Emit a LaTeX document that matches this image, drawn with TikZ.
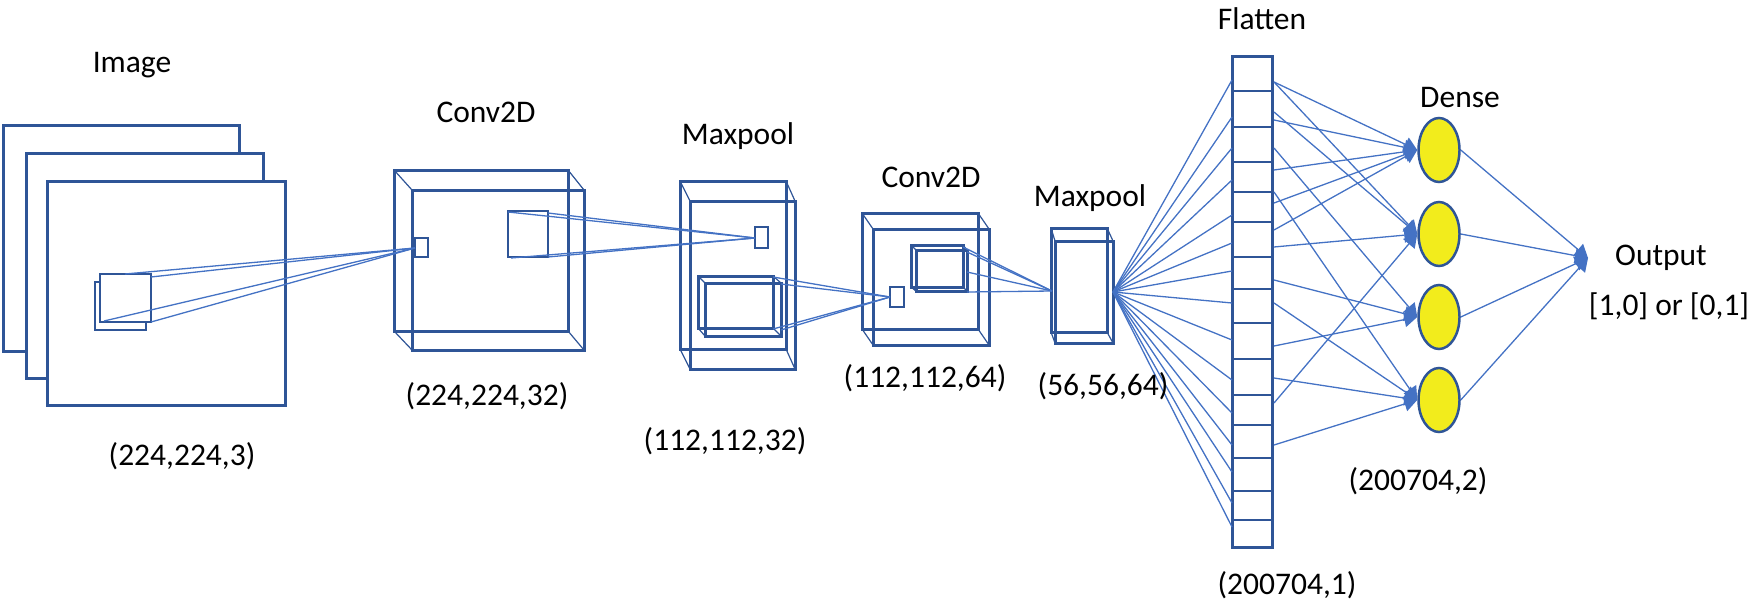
\documentclass[tikz,border=0pt]{standalone}
\usepackage{fontspec}
\setmainfont{Carlito}
\usetikzlibrary{arrows.meta,shapes.geometric}
\definecolor{boxblue}{HTML}{2F5597}
\definecolor{lineblue}{HTML}{4472C4}
\definecolor{neuron}{HTML}{F2EC1C}
\newcommand{\mycuboid}[8]{%
  \draw[box] (#1,#2) rectangle (#3,#4);
  \draw[box] (#5,#6) rectangle (#7,#8);
  \draw[edge] (#1,#2) -- (#5,#6) (#3,#2) -- (#7,#6) (#1,#4) -- (#5,#8) (#3,#4) -- (#7,#8);}
\begin{document}
\begin{tikzpicture}[x=1pt,y=-1pt,
  box/.style={draw=boxblue,line width=3pt},
  thinbox/.style={draw=boxblue,line width=2.5pt},
  edge/.style={draw=boxblue,line width=1.2pt},
  conn/.style={draw=lineblue,line width=1.3pt},
  arr/.style={conn,-{Triangle[length=13pt,width=15pt]}},
  lbl/.style={font=\fontsize{31.5}{36}\selectfont,anchor=base,inner sep=0pt,text=black},
  neuronstyle/.style={ellipse,draw=boxblue,line width=2.5pt,fill=neuron,minimum width=41pt,minimum height=64pt,inner sep=0pt}]
\useasboundingbox (0,0) rectangle (1755,607);

% ---- Image stack
\draw[box,fill=white] (3,126) rectangle (239,351);
\draw[box,fill=white] (26,153) rectangle (263,378);
\draw[box,fill=white] (47,181) rectangle (285,405);
\draw[thinbox,fill=white] (95,282) rectangle (146,330);
\draw[thinbox,fill=white] (100,274) rectangle (151,322);
\coordinate (sqA) at (125,274);
\coordinate (sqB) at (151,277);
\coordinate (sqC) at (104,321);
\coordinate (sqD) at (151,322);

% ---- Conv2D 1
\mycuboid{394}{170}{568}{331}{412}{190}{584}{350}
\draw[thinbox] (415,238) rectangle (428,257);
\coordinate (c1s) at (415,248);
\draw[thinbox] (508,211) rectangle (548,257);
\coordinate (q1) at (508,212);
\coordinate (q2) at (548,213);
\coordinate (q3) at (548,257);
\coordinate (q4) at (511,258);
\foreach \p in {sqA,sqB,sqC,sqD} \draw[conn] (\p) -- (c1s);

% ---- Maxpool 1
\mycuboid{680}{181}{786}{349}{690}{201}{795}{369}
\draw[thinbox] (755,227) rectangle (768,248);
\coordinate (m1s) at (755,238);
\mycuboid{698}{276}{773}{328}{705}{283}{781}{336}
\foreach \p in {q1,q2,q3,q4} \draw[conn] (\p) -- (m1s);
\coordinate (i1) at (773,277);
\coordinate (i2) at (781,284);
\coordinate (i3) at (781,330);
\coordinate (i4) at (773,329);

% ---- Conv2D 2
\mycuboid{862}{213}{978}{329}{873}{229}{989}{345}
\draw[thinbox] (890,287) rectangle (904,307);
\coordinate (c2s) at (890,297);
\foreach \p in {i1,i2,i3,i4} \draw[conn] (\p) -- (c2s);
\mycuboid{911}{245}{963}{287}{916}{250}{967}{291}
\coordinate (j1) at (963,247);
\coordinate (j2) at (967,252);
\coordinate (j3) at (967,272);
\coordinate (j4) at (967,292);

% ---- Maxpool 2
\mycuboid{1051}{228}{1107}{332}{1055}{241}{1113}{343}
\coordinate (m2w) at (1052,291);
\coordinate (m2e) at (1113,292);
\foreach \p in {j1,j2,j3,j4} \draw[conn] (\p) -- (m2w);

% ---- Flatten
\node[box,rectangle,minimum width=40pt,minimum height=490pt,inner sep=0pt] (fl) at (1252,302) {};
\foreach \y in {91,127,162,192,222,257,289,323,359,395,425,458,491,520}
  \draw[boxblue,line width=2pt] (1233,\y) -- (1271,\y);
\foreach \y in {80,117,148,180,215,243,271,303,340,380,413,445,472,503,527}
  \draw[conn] (m2e) -- (1232,\y);

% ---- Dense
\node[neuronstyle] (d1) at (1439,150) {};
\node[neuronstyle] (d2) at (1439,234) {};
\node[neuronstyle] (d3) at (1439,317) {};
\node[neuronstyle] (d4) at (1439,400) {};
\foreach \y in {82,120,170,203,230} \draw[arr] (1274,\y) -- (d1.west);
\foreach \y in {82,112,247,403} \draw[arr] (1274,\y) -- (d2.west);
\foreach \y in {148,280,346} \draw[arr] (1274,\y) -- (d3.west);
\foreach \y in {192,303,378,445} \draw[arr] (1274,\y) -- (d4.west);

% ---- Output
\coordinate (out) at (1588,258);
\foreach \d in {d1,d2,d3,d4} \draw[arr] (\d.east) -- (out);

% ---- Labels
\node[lbl] (tImage) at (132,73) {Image};
\node[lbl] (tConvA) at (486,122) {Conv2D};
\node[lbl] (tPoolA) at (738,144) {Maxpool};
\node[lbl] (tConvB) at (931,187) {Conv2D};
\node[lbl] (tPoolB) at (1090,206) {Maxpool};
\node[lbl] (tFlat) at (1262,30) {Flatten};
\node[lbl] (tDense) at (1460,108) {Dense};
\node[lbl] (tOut) at (1661,265) {Output};
\node[lbl] (tOutV) at (1669,315) {[1,0] or [0,1]};
\node[lbl] (sImage) at (182,465) {(224,224,3)};
\node[lbl] (sConvA) at (487,405) {(224,224,32)};
\node[lbl] (sPoolA) at (725,450) {(112,112,32)};
\node[lbl] (sConvB) at (925,387) {(112,112,64)};
\node[lbl] (sPoolB) at (1103,395) {(56,56,64)};
\node[lbl] (sDense) at (1418,490) {(200704,2)};
\node[lbl] (sFlat) at (1287,594) {(200704,1)};
\end{tikzpicture}
\end{document}
